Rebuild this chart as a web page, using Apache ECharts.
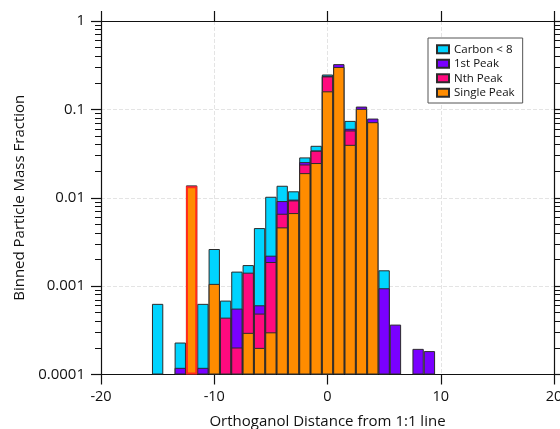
<!DOCTYPE html>
<html>
<head>
<meta charset="utf-8">
<script src="https://cdn.jsdelivr.net/npm/echarts@6/dist/echarts.min.js"></script>
<style>
  html, body { margin: 0; padding: 0; background: #fff; overflow: hidden; }
  #chart { width: 560px; height: 429px; }
</style>
</head>
<body>
<div id="chart"></div>
<script>
// Bin centres (orthogonal distance, bins of width 1)
const binCenters = [-15, -14, -13, -12, -11, -10, -9, -8, -7, -6, -5, -4, -3, -2, -1,
                    0, 1, 2, 3, 4, 5, 6, 7, 8, 9];

// Mass fraction of each particle class per bin (stacked bottom to top:
// Single Peak, Nth Peak, 1st Peak, Carbon < 8)
const singlePeak = [0, 0, 0, 0.0135, 0, 0.00106, 0, 0, 0.000296, 0.0002, 0.0003, 0.00462, 0.00671, 0.019, 0.0247,
                    0.160, 0.302, 0.0397, 0.1014, 0.0716, 0, 0, 0, 0, 0];
const nthPeak    = [0, 0, 0, 0, 0, 0, 0.00044, 0.000202, 0.001124, 0.000289, 0.001575, 0.00197, 0.00262, 0.0048, 0.0093,
                    0.076, 0, 0.018, 0, 0, 0, 0, 0, 0, 0];
const firstPeak  = [0, 0, 0.000119, 0.0003, 0.000119, 0, 0, 0.000355, 0, 0.000118, 0.000335, 0.00258, 0.0002, 0.0015, 0.0003,
                    0.004, 0.023, 0.0026, 0.0062, 0.0071, 0.000946, 0.000367, 0, 0.000195, 0.000184];
const carbonLt8  = [0.00063, 0, 0.000111, 0, 0.000511, 0.00157, 0.000246, 0.000903, 0.00031, 0.00393, 0.00805, 0.0045, 0.0023, 0.0033, 0.0044,
                    0.008, 0, 0.0138, 0, 0, 0.000564, 0, 0, 0, 0];

const seriesNames = ['Carbon < 8', '1st Peak', 'Nth Peak', 'Single Peak'];
const xTicks = [-20, -10, 0, 10, 20];
const yTickLabels = ['0.0001', '0.001', '0.01', '0.1', '1'];

const highlightBin = -12; // bin outlined in red

const colors = {
  'Carbon < 8': '#00d4ff',
  '1st Peak': '#7a00ff',
  'Nth Peak': '#ff0a7e',
  'Single Peak': '#ff8c00'
};

// cumulative tops for the stack, bottom layer first
const layers = [singlePeak, nthPeak, firstPeak, carbonLt8];
const layerNames = ['Single Peak', 'Nth Peak', '1st Peak', 'Carbon < 8'];
const cumulative = [];
let running = binCenters.map(() => 0);
layers.forEach(layer => {
  running = running.map((v, i) => v + layer[i]);
  cumulative.push(running.slice());
});

function layerData(k) {
  const out = [];
  binCenters.forEach((x, i) => {
    if (layers[k][i] > 0) {
      const item = { value: [x, cumulative[k][i]] };
      if (x === highlightBin && k === 0) {
        item.itemStyle = { borderColor: '#ff2a1a', borderWidth: 2 };
      }
      out.push(item);
    }
  });
  return out;
}

// Each layer is drawn as a bar rising from the axis floor to its cumulative
// top; upper layers are drawn first so lower ones overlay them.
const gridLeft = 101, gridRight = 6;
const barWidth = (560 - gridLeft - gridRight) / 40;
const series = [3, 2, 1, 0].map(k => ({
  name: layerNames[k],
  type: 'bar',
  xAxisIndex: 0,
  yAxisIndex: 0,
  barWidth: barWidth,
  barGap: '-100%',
  data: layerData(k),
  itemStyle: { color: colors[layerNames[k]], borderColor: '#2b2b2b', borderWidth: 1 }
}));

const fontFamily = '"Open Sans", "Noto Sans", sans-serif';
const logLabel = v => {
  const idx = Math.round(Math.log10(v)) + 4;
  return yTickLabels[idx] !== undefined ? yTickLabels[idx] : '';
};

const chart = echarts.init(document.getElementById('chart'), null, { renderer: 'canvas' });
chart.setOption({
  animation: false,
  backgroundColor: '#fff',
  textStyle: { fontFamily: fontFamily },
  grid: { left: gridLeft, right: gridRight, top: 21, bottom: 54.5, containLabel: false, outerBoundsMode: 'none' },
  legend: {
    data: seriesNames,
    orient: 'vertical',
    left: 428,
    top: 38,
    width: 102,
    padding: [5, 8, 4, 8],
    itemWidth: 12,
    itemHeight: 8,
    itemGap: 2,
    borderColor: '#555',
    borderWidth: 1,
    backgroundColor: '#fff',
    icon: 'rect',
    textStyle: { fontSize: 11.5, color: '#111', lineHeight: 12.5, fontFamily: fontFamily }
  },
  xAxis: [{
    type: 'value',
    min: -20, max: 20, interval: 10,
    name: 'Orthoganol Distance from 1:1 line',
    nameLocation: 'middle',
    nameGap: 40,
    nameTextStyle: { fontSize: 15, color: '#111' },
    axisLine: { show: true, onZero: false, lineStyle: { color: '#111', width: 1.2 } },
    axisTick: { show: true, length: 10, lineStyle: { color: '#111', width: 1.2 } },
    axisLabel: {
      margin: 15, fontSize: 14.5, color: '#111',
      formatter: v => (xTicks.indexOf(v) >= 0 ? String(v) : '')
    },
    splitLine: { show: true, lineStyle: { color: '#e4e4e4', width: 1, type: 'dashed' } }
  }, {
    type: 'value',
    position: 'top',
    min: -20, max: 20, interval: 10,
    axisLine: { show: true, onZero: false, lineStyle: { color: '#111', width: 1.2 } },
    axisTick: { show: true, length: 10, lineStyle: { color: '#111', width: 1.2 } },
    axisLabel: { show: false },
    splitLine: { show: false }
  }],
  yAxis: [{
    type: 'log',
    logBase: 10,
    min: 0.0001, max: 1,
    startValue: 0.0001,
    name: 'Binned Particle Mass Fraction',
    nameLocation: 'middle',
    nameGap: 71,
    nameTextStyle: { fontSize: 15, color: '#111' },
    axisLine: { show: true, onZero: false, lineStyle: { color: '#111', width: 1.2 } },
    axisTick: { show: true, length: 10, lineStyle: { color: '#111', width: 1.2 } },
    minorTick: { show: true, splitNumber: 9, length: 6, lineStyle: { color: '#111', width: 1 } },
    axisLabel: { margin: 16, fontSize: 15, color: '#111', formatter: logLabel },
    splitLine: { show: true, lineStyle: { color: '#e4e4e4', width: 1, type: 'dashed' } }
  }, {
    type: 'log',
    logBase: 10,
    position: 'right',
    min: 0.0001, max: 1,
    axisLine: { show: true, onZero: false, lineStyle: { color: '#111', width: 1.2 } },
    axisTick: { show: true, length: 10, lineStyle: { color: '#111', width: 1.2 } },
    minorTick: { show: true, splitNumber: 9, length: 6, lineStyle: { color: '#111', width: 1 } },
    axisLabel: { show: false },
    splitLine: { show: false }
  }],
  series: series
});
</script>
</body>
</html>
